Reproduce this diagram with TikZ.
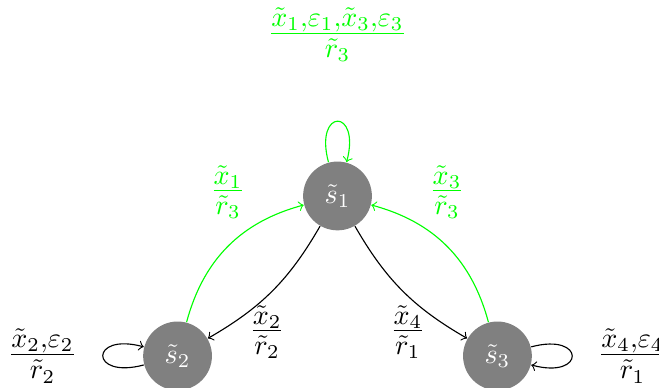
\documentclass[tikz,border=0pt]{standalone}
\usetikzlibrary{positioning}

\begin{document}
\begin{tikzpicture}[
  node distance=2cm and 2cm, on grid,
  st/.style={circle, fill=gray, text=white, minimum size=8.6mm, inner sep=0pt},
  lab/.style={font=\Large},
  fwd/.style={->, black},
  back/.style={->, green}
]
\useasboundingbox (-4.22,-2.39) rectangle (4.02,2.45);
\node[st] (s1) {$\tilde{s}_1$};
\node[st, below left=of s1] (s2) {$\tilde{s}_2$};
\node[st, below right=of s1] (s3) {$\tilde{s}_3$};
\draw[fwd] (s1) to[bend left=15] node[lab, pos=0.55, below] {$\frac{\tilde{x}_2}{\tilde{r}_2}$} (s2);
\draw[fwd] (s1) to[bend right=15] node[lab, pos=0.55, below] {$\frac{\tilde{x}_4}{\tilde{r}_1}$} (s3);
\draw[back] (s2) to[bend left=30] node[lab, above=2.2mm] {$\frac{\tilde{x}_1}{\tilde{r}_3}$} (s1);
\draw[back] (s3) to[bend right=30] node[lab, above=2.2mm] {$\frac{\tilde{x}_3}{\tilde{r}_3}$} (s1);
\draw[back] (s1) to[loop above] node[lab, above=6.2mm] {$\frac{\tilde{x}_1,\varepsilon_1,\tilde{x}_3,\varepsilon_3}{\tilde{r}_3}$} (s1);
\draw[fwd] (s2) to[loop left] node[lab, left=2mm] {$\frac{\tilde{x}_2,\varepsilon_2}{\tilde{r}_2}$} (s2);
\draw[fwd] (s3) to[loop right] node[lab, right=2mm] {$\frac{\tilde{x}_4,\varepsilon_4}{\tilde{r}_1}$} (s3);
\end{tikzpicture}
\end{document}
